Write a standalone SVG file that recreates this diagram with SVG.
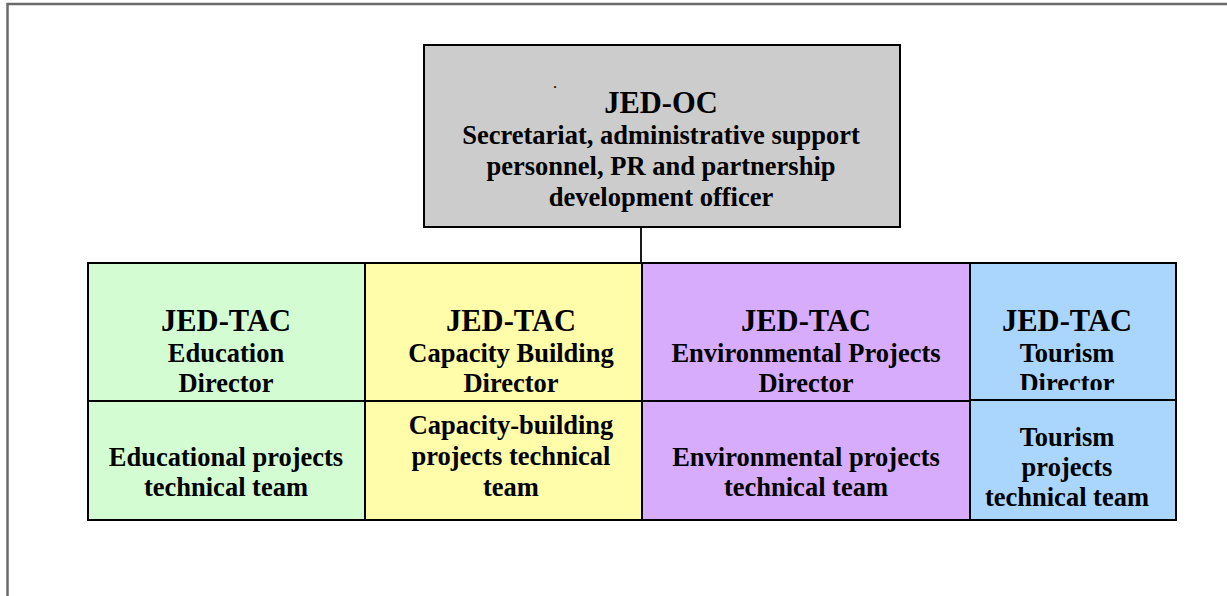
<svg xmlns="http://www.w3.org/2000/svg" width="1227" height="596" viewBox="0 0 1227 596">
<style>
text{font-family:"Liberation Serif","Times New Roman",serif;font-weight:bold;fill:#000;text-anchor:middle}
.h{font-size:30.5px}
.s{font-size:26.5px}
.box{stroke:#000;stroke-width:2}
</style>
<defs>
<clipPath id="clipTour"><rect x="970" y="262" width="206" height="128"/></clipPath>
</defs>
<rect width="1227" height="596" fill="#fff"/>
<path d="M7.5,597 V4 H1228" fill="none" stroke="#6a6a6a" stroke-width="2.5"/>
<g id="connectors">
<line x1="641" y1="227" x2="641" y2="263" stroke="#000" stroke-width="1.8"/>
</g>
<g id="jed-oc">
<rect class="box" x="424" y="45" width="476" height="182" fill="#cccccc"/>
<text x="555" y="88" style="font-size:12px">.</text>
<text class="h" x="661" y="113">JED-OC</text>
<text class="s" x="661" y="144">Secretariat, administrative support</text>
<text class="s" x="661" y="175">personnel, PR and partnership</text>
<text class="s" x="661" y="206">development officer</text>
</g>
<g id="education-director">
<rect class="box" x="88" y="263" width="277" height="138" fill="#d3fcd3"/>
<text class="h" x="226" y="331">JED-TAC</text>
<text class="s" x="226" y="362">Education</text>
<text class="s" x="226" y="392">Director</text>
</g>
<g id="education-team">
<rect class="box" x="88" y="401" width="277" height="119" fill="#d3fcd3"/>
<text class="s" x="226" y="466">Educational projects</text>
<text class="s" x="226" y="496">technical team</text>
</g>
<g id="capacity-director">
<rect class="box" x="365" y="263" width="277" height="138" fill="#fffcaa"/>
<text class="h" x="511" y="331">JED-TAC</text>
<text class="s" x="511" y="362">Capacity Building</text>
<text class="s" x="511" y="392">Director</text>
</g>
<g id="capacity-team">
<rect class="box" x="365" y="401" width="277" height="119" fill="#fffcaa"/>
<text class="s" x="511" y="434">Capacity-building</text>
<text class="s" x="511" y="465">projects technical</text>
<text class="s" x="511" y="496">team</text>
</g>
<g id="environment-director">
<rect class="box" x="642" y="263" width="328" height="138" fill="#d7acfd"/>
<text class="h" x="806" y="331">JED-TAC</text>
<text class="s" x="806" y="362">Environmental Projects</text>
<text class="s" x="806" y="392">Director</text>
</g>
<g id="environment-team">
<rect class="box" x="642" y="401" width="328" height="119" fill="#d7acfd"/>
<text class="s" x="806" y="466">Environmental projects</text>
<text class="s" x="806" y="496">technical team</text>
</g>
<g id="tourism-director">
<rect class="box" x="970" y="263" width="206" height="137" fill="#aad5fd"/>
<g clip-path="url(#clipTour)">
<text class="h" x="1067" y="331">JED-TAC</text>
<text class="s" x="1067" y="362">Tourism</text>
<text class="s" x="1067" y="392">Director</text>
</g>
</g>
<g id="tourism-team">
<rect class="box" x="970" y="400" width="206" height="120" fill="#aad5fd"/>
<text class="s" x="1067" y="446">Tourism</text>
<text class="s" x="1067" y="476">projects</text>
<text class="s" x="1067" y="506">technical team</text>
</g>
</svg>
